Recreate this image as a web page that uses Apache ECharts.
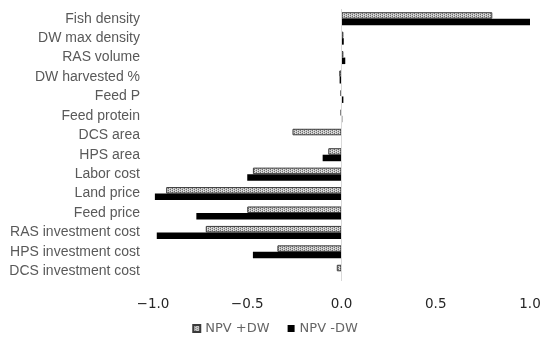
<!DOCTYPE html>
<html><head><meta charset="utf-8">
<script src="https://cdn.jsdelivr.net/npm/echarts@6/dist/echarts.min.js"></script>
<style>html,body{margin:0;padding:0;background:#fff}#c{width:550px;height:344px}</style>
</head><body><div id="c"></div>
<script>
const categories = ["Fish density","DW max density","RAS volume","DW harvested %","Feed P","Feed protein","DCS area","HPS area","Labor cost","Land price","Feed price","RAS investment cost","HPS investment cost","DCS investment cost"];
const npvPlusDW  = [0.80, 0.010, 0.010, -0.012, -0.005, -0.004, -0.26, -0.07, -0.47, -0.93, -0.50, -0.72, -0.34, -0.025];
const npvMinusDW = [1.00, 0.012, 0.020, -0.010, 0.010, 0.004, 0.0, -0.10, -0.50, -0.99, -0.77, -0.98, -0.47, 0.0];
const xTicks = [-1.0, -0.5, 0.0, 0.5, 1.0];
const seriesNames = ["NPV +DW", "NPV -DW"];

const pc = document.createElement('canvas');
pc.width = 4; pc.height = 2;
const px = pc.getContext('2d');
px.fillStyle = '#c0c0c0'; px.fillRect(0,0,4,2);
px.fillStyle = '#6e6e6e'; px.fillRect(0,0,1,1); px.fillRect(2,1,1,1);
px.fillStyle = '#e6e6e6'; px.fillRect(1,0,1,1); px.fillRect(3,1,1,1);

const chart = echarts.init(document.getElementById('c'), null, {renderer:'canvas'});
chart.setOption({
  animation: false,
  backgroundColor: '#fff',
  grid: {left: 153, right: 20, top: 9, bottom: 63, containLabel: false},
  legend: {
    bottom: 4, left: 'center', itemWidth: 7, itemHeight: 7, itemGap: 18,
    textStyle: {fontFamily: 'DejaVu Sans', fontSize: 13, color: '#666'},
    data: [{name: seriesNames[0], icon: 'rect'}, {name: seriesNames[1], icon: 'rect'}]
  },
  xAxis: {
    type: 'value', min: xTicks[0], max: xTicks[xTicks.length - 1], interval: 0.5,
    axisLine: {show: false}, axisTick: {show: false}, splitLine: {show: false},
    axisLabel: {margin: 16, fontFamily: 'DejaVu Sans', fontSize: 13.5, color: '#262626',
      formatter: v => (v < 0 ? '\u2212' : '') + Math.abs(v).toFixed(1)}
  },
  yAxis: {
    type: 'category', data: categories, inverse: true,
    axisLine: {show: false}, axisTick: {show: false},
    axisLabel: {margin: 13, fontFamily: 'Liberation Sans', fontSize: 14, color: '#595959'}
  },
  series: [
    {name: seriesNames[0], type: 'bar', data: npvPlusDW, barGap: '0%', barCategoryGap: '33%',
     itemStyle: {color: {image: pc, repeat: 'repeat'}, borderColor: '#3a3a3a', borderWidth: 1},
     markLine: {silent: true, symbol: 'none', label: {show: false},
       lineStyle: {color: '#d9d9d9', type: 'solid', width: 1}, data: [{xAxis: 0}]}},
    {name: seriesNames[1], type: 'bar', data: npvMinusDW, barGap: '0%', barCategoryGap: '33%',
     itemStyle: {color: '#000'}}
  ]
});
</script></body></html>
